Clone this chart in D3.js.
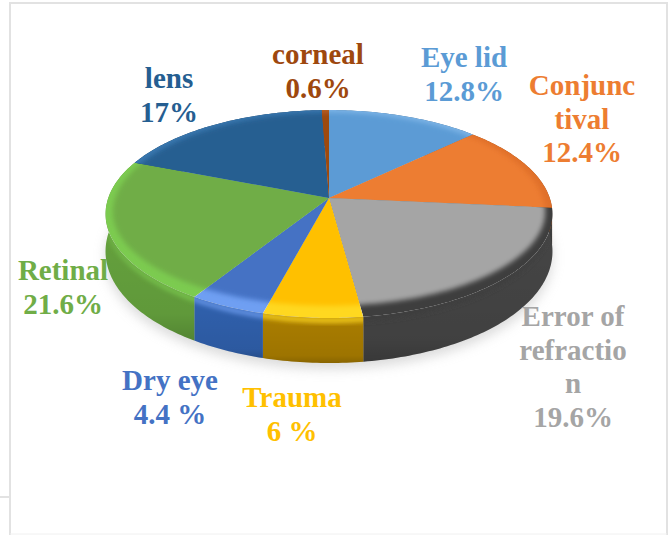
<!DOCTYPE html>
<html>
<head>
<meta charset="utf-8">
<script src="https://cdn.jsdelivr.net/npm/d3@7"></script>
<style>
  html, body { margin: 0; padding: 0; background: #fff; }
  text { font-family: "Liberation Serif", serif; font-weight: bold; font-size: 29px; }
</style>
</head>
<body>
<div id="chart"></div>
<script>
const categories = ['Eye lid', 'Conjunctival', 'Error of refraction', 'Trauma', 'Dry eye', 'Retinal', 'lens', 'corneal']
// slice sizes as measured on the picture, they do not quite follow the printed percentages
const values = [12.8, 13.7, 21.4, 6.2, 4.8, 22.1, 18.4, 0.6]
const topColors = ['#5b9bd5', '#ed7d31', '#a5a5a5', '#ffc000', '#4472c4', '#70ad47', '#255e91', '#9e480e']
const sideColors = ['#3f6f99', '#a95a23', '#464646', '#ab7e00', '#3061ae', '#68a63f', '#1a4368', '#713409']
const rimColors = ['#7db4e6', '#e0702a', '#3e3e3e', '#ffd820', '#6f9ff2', '#7ccb50', '#3a78b0', '#b9602a']
const labelLines = [
  ['Eye lid', '12.8%'],
  ['Conjunc', 'tival', '12.4%'],
  ['Error of', 'refractio', 'n', '19.6%'],
  ['Trauma', '6 %'],
  ['Dry eye', '4.4 %'],
  ['Retinal', '21.6%'],
  ['lens', '17%'],
  ['corneal', '0.6%']
]
const labelAnchors = [[464, 67], [582, 95], [573, 326], [292, 407], [170, 390], [63, 280], [169, 88], [318, 64]]

const width = 669
const height = 535
const cx = 329
const cy = 198
const radiusX = 220.8
const radiusY = 101.5
const tilt = 0.154

const svg = d3.select('#chart').append('svg')
  .attr('width', width)
  .attr('height', height)
  .style('display', 'block')

// frame left over from the document the chart was pasted in
const frame = svg.append('g').attr('fill', 'none').attr('stroke', '#e2e2e2')
frame.append('path').attr('stroke-width', 2).attr('d', 'M10,535V3H667V535')
frame.append('path').attr('stroke-width', 2).attr('d', 'M0,497H10')
frame.append('path').attr('stroke', '#f0f0f0').attr('d', 'M10,534H667')

// tilted disc: unit circle point to screen point, near side bigger
function project (angle, scale = 1, drop = 0, lift = 0) {
  const u = Math.sin(angle) * scale
  const v = -Math.cos(angle) * scale
  const w = 1 - tilt * v
  const y = cy + radiusY * v / w
  const front = Math.max(0, v)
  return [cx + radiusX * u / w, y + drop * (36 + 9 * front) - lift * front]
}

function arcPoints (a0, a1, scale, drop, lift) {
  const n = Math.max(2, Math.ceil((a1 - a0) * 60))
  return d3.range(n + 1).map(i => project(a0 + (a1 - a0) * i / n, scale, drop, lift))
}

const line = d3.line()
function slicePath (d) {
  return line([[cx, cy], ...arcPoints(d.startAngle, d.endAngle, 1, 0, 0)]) + 'Z'
}
function sidePath (d, drop = 1) {
  const top = arcPoints(d.startAngle, d.endAngle, 1, 0, 0)
  const bottom = arcPoints(d.startAngle, d.endAngle, 1, drop, 0).reverse()
  return line([...top, ...bottom]) + 'Z'
}

const slices = d3.pie().sort(null)(values)

const defs = svg.append('defs')
defs.append('filter').attr('id', 'soft').attr('x', '-20%').attr('y', '-20%').attr('width', '140%').attr('height', '140%')
  .append('feGaussianBlur').attr('stdDeviation', 2.6)
defs.append('filter').attr('id', 'shadow').attr('x', '-20%').attr('y', '-20%').attr('width', '140%').attr('height', '140%')
  .append('feGaussianBlur').attr('stdDeviation', 6)
// wall darkens going down
const wallShade = defs.append('linearGradient').attr('id', 'wallShade').attr('x1', 0).attr('x2', 0).attr('y1', 0).attr('y2', 1)
wallShade.append('stop').attr('offset', 0).attr('stop-color', '#000').attr('stop-opacity', 0)
wallShade.append('stop').attr('offset', 0.85).attr('stop-color', '#000').attr('stop-opacity', 0.08)
wallShade.append('stop').attr('offset', 1).attr('stop-color', '#000').attr('stop-opacity', 0.2)
slices.forEach((d, i) => {
  defs.append('clipPath').attr('id', 'clip' + i).append('path').attr('d', slicePath(d))
  defs.append('clipPath').attr('id', 'sideClip' + i).append('path').attr('d', sidePath(d))
})

// soft shadow on the page
svg.append('path')
  .attr('d', line(arcPoints(0, 2 * Math.PI, 1, 1, 0).map(p => [p[0], p[1] + 6])) + 'Z')
  .attr('fill', '#bdbdbd')
  .attr('opacity', 0.55)
  .attr('filter', 'url(#shadow)')

// walls
const walls = svg.append('g')
walls.selectAll('path.side')
  .data(slices)
  .enter().append('path')
  .attr('class', 'side')
  .attr('d', d => sidePath(d))
  .attr('fill', (d, i) => sideColors[i])
walls.selectAll('path.shade')
  .data(slices)
  .enter().append('path')
  .attr('class', 'shade')
  .attr('d', d => sidePath(d))
  .attr('fill', 'url(#wallShade)')
// bevel runs a little over the top of the wall
walls.selectAll('g.lip')
  .data(slices)
  .enter().append('g')
  .attr('class', 'lip')
  .attr('clip-path', (d, i) => 'url(#sideClip' + i + ')')
  .append('path')
  .attr('d', d => sidePath({ startAngle: d.startAngle - 0.1, endAngle: d.endAngle + 0.1 }, 0.1))
  .attr('fill', (d, i) => rimColors[i])
  .attr('filter', 'url(#soft)')

// top face: rim colour under a blurred inner disc clipped to the slice, which gives the bevel
const innerDisc = line(arcPoints(0, 2 * Math.PI, 0.968, 0, 8)) + 'Z'
const tops = svg.selectAll('g.top')
  .data(slices)
  .enter().append('g')
  .attr('class', 'top')
  .attr('clip-path', (d, i) => 'url(#clip' + i + ')')
tops.append('path')
  .attr('d', slicePath)
  .attr('fill', (d, i) => rimColors[i])
tops.append('path')
  .attr('d', innerDisc)
  .attr('fill', (d, i) => topColors[i])
  .attr('filter', 'url(#soft)')

// labels
const labels = svg.selectAll('text.label')
  .data(labelLines)
  .enter().append('text')
  .attr('class', 'label')
  .attr('text-anchor', 'middle')
  .attr('fill', (d, i) => topColors[i])
  .attr('transform', (d, i) => 'translate(' + labelAnchors[i] + ')')
labels.selectAll('tspan')
  .data(d => d)
  .enter().append('tspan')
  .attr('x', 0)
  .attr('y', (d, i) => i * 33.5)
  .text(d => d)
</script>
</body>
</html>
